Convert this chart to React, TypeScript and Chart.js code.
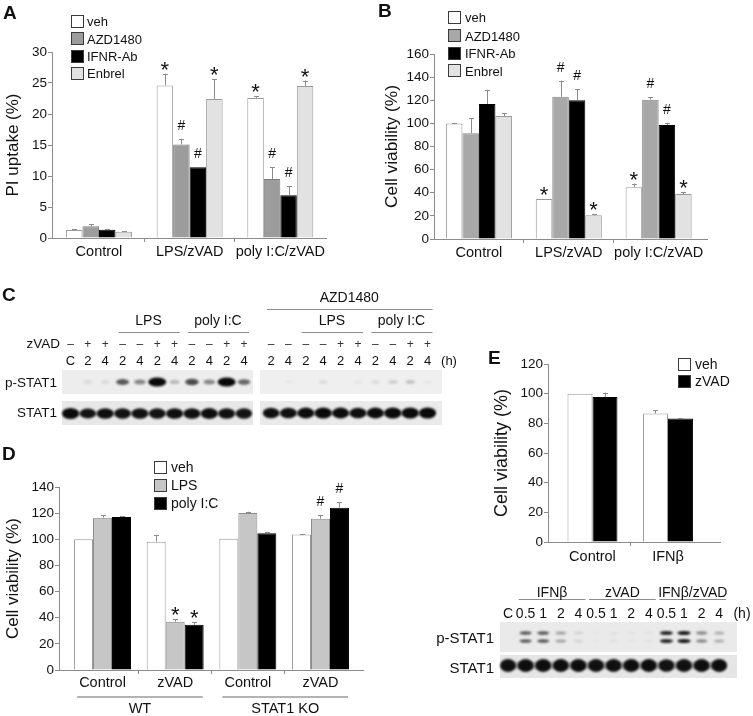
import React, { useEffect, useRef } from 'react';
import { Chart, registerables } from 'chart.js';

Chart.register(...registerables);

const FONT = '"Liberation Sans", Arial, Helvetica, sans-serif';

/* ---------------- Panel A : PI uptake (%) ---------------- */
const aCategories = ['Control', 'LPS/zVAD', 'poly I:C/zVAD'];
const aSeriesNames = ['veh', 'AZD1480', 'IFNR-Ab', 'Enbrel'];
const aVeh = [1.3, 24.6, 22.6];
const aAzd = [1.9, 15.1, 9.5];
const aIfnr = [1.35, 11.4, 6.9];
const aEnbrel = [1.0, 22.4, 24.5];
const aVehErr = [0.15, 1.9, 0.3];
const aAzdErr = [0.3, 0.9, 1.9];
const aIfnrErr = [0.1, 0, 1.5];
const aEnbrelErr = [0.05, 3.2, 0.9];
const aVehMarks = ['', '*', '*'];
const aAzdMarks = ['', '#', '#'];
const aIfnrMarks = ['', '#', '#'];
const aEnbrelMarks = ['', '*', '*'];
const aYMax = 30;
const aYStep = 5;

/* ---------------- Panel B : Cell viability (%) ---------------- */
const bCategories = ['Control', 'LPS/zVAD', 'poly I:C/zVAD'];
const bSeriesNames = ['veh', 'AZD1480', 'IFNR-Ab', 'Enbrel'];
const bVeh = [100, 34.6, 44.7];
const bAzd = [91.4, 123, 120.5];
const bIfnr = [116.7, 120, 98.6];
const bEnbrel = [106.3, 20.5, 38.9];
const bVehErr = [0.5, 0, 3.3];
const bAzdErr = [13, 14, 2];
const bIfnrErr = [12.3, 9.7, 2];
const bEnbrelErr = [2.7, 1.0, 1.7];
const bVehMarks = ['', '*', '*'];
const bAzdMarks = ['', '#', '#'];
const bIfnrMarks = ['', '#', '#'];
const bEnbrelMarks = ['', '*', '*'];
const bYMax = 160;
const bYStep = 20;

/* ---------------- Panel D : Cell viability (%) ---------------- */
const dCategories = ['Control', 'zVAD', 'Control', 'zVAD'];
const dGroupNames = ['WT', 'STAT1 KO'];
const dGroupSpans = [[0, 1], [2, 3]];
const dSeriesNames = ['veh', 'LPS', 'poly I:C'];
const dVeh = [100, 98.2, 100.5, 103.6];
const dLps = [116.5, 36.9, 120.1, 115.8];
const dPoly = [117, 34.6, 104.6, 124.2];
const dVehErr = [0, 4.8, 0, 0.5];
const dLpsErr = [1.8, 2.1, 1.0, 2.5];
const dPolyErr = [0.7, 1.8, 1.0, 4.0];
const dVehMarks = ['', '', '', ''];
const dLpsMarks = ['', '*', '', '#'];
const dPolyMarks = ['', '*', '', '#'];
const dYMax = 140;
const dYStep = 20;

/* ---------------- Panel E : Cell viability (%) ---------------- */
const eCategories = ['Control', 'IFNβ'];
const eSeriesNames = ['veh', 'zVAD'];
const eVeh = [100, 86.6];
const eZvad = [97.8, 83.3];
const eVehErr = [0, 2.2];
const eZvadErr = [2.9, 0.4];
const eVehMarks = ['', ''];
const eZvadMarks = ['', ''];
const eYMax = 120;
const eYStep = 20;

/* ---------------- Western blots ---------------- */
const cLeftTimes = ['C', '2', '4', '2', '4', '2', '4', '2', '4', '2', '4'];
const cLeftZvad = ['–', '+', '+', '–', '–', '+', '+', '–', '–', '+', '+'];
const cLeftPStat = [0, 0.07, 0.07, 0.5, 0.35, 1.0, 0.18, 0.55, 0.35, 1.0, 0.45];
const cLeftStat = [1.0, 0.8, 0.92, 0.85, 0.88, 0.85, 0.92, 0.9, 0.95, 0.88, 0.82];
const cLeftGroups = [{ label: 'LPS', from: 3, to: 6 }, { label: 'poly I:C', from: 7, to: 10 }];
const cRightTimes = ['2', '4', '2', '4', '2', '4', '2', '4', '2', '4'];
const cRightZvad = ['–', '–', '–', '–', '+', '+', '–', '–', '+', '+'];
const cRightPStat = [0, 0.03, 0, 0.07, 0, 0.04, 0.07, 0.12, 0.15, 0.03];
const cRightStat = [0.88, 0.9, 0.95, 1, 0.95, 0.92, 0.98, 1, 1, 1];
const cRightGroups = [{ label: 'LPS', from: 2, to: 5 }, { label: 'poly I:C', from: 6, to: 9 }];
const cRightTop = { label: 'AZD1480', from: 0, to: 9 };
const eTimes = ['C', '0.5', '1', '2', '4', '0.5', '1', '2', '4', '0.5', '1', '2', '4'];
const ePStat = [0, 0.6, 0.6, 0.3, 0.1, 0.02, 0.04, 0.03, 0.04, 0.8, 0.85, 0.4, 0.25];
const eStat = [0.95, 1, 1, 1, 1, 0.95, 0.95, 1, 1, 0.9, 0.95, 1, 1];
const eGroups = [{ label: 'IFNβ', from: 1, to: 4 }, { label: 'zVAD', from: 5, to: 8 }, { label: 'IFNβ/zVAD', from: 9, to: 12 }];

/* lane layout */
const cLx = (i: number) => 70.5 + i * 17.35;
const cRx = (i: number) => 271 + i * 17.4;
const eLx = (i: number) => 508 + i * 17.6;

type Series = { label: string; data: number[]; err: number[]; marks: string[]; fill: string; border: string };
type PanelCfg = {
  left: number; top: number; width: number; height: number;
  padTop: number; padRight: number; yWidth: number; xHeight: number; xPad: number;
  catStart: number; catEnd: number; catPct: number;
  labels: string[]; series: Series[]; yMax: number; yStep: number;
  yTitle: string; yTitleSize: number; yTitlePad: number;
  groups?: { label: string; from: number; to: number }[];
};

const WHITE = { fill: '#ffffff', border: '#9a9a9a' };
const BLACK = { fill: '#000000', border: '#000000' };

const panelA: PanelCfg = {
  left: 0, top: 30, width: 340, height: 245, padTop: 22, padRight: 14, yWidth: 52, xHeight: 37, xPad: 1,
  catStart: -0.518, catEnd: 2.504, catPct: 0.728,
  labels: aCategories, yMax: aYMax, yStep: aYStep, yTitle: 'PI uptake (%)', yTitleSize: 17, yTitlePad: 3,
  series: [
    { label: aSeriesNames[0], data: aVeh, err: aVehErr, marks: aVehMarks, ...WHITE },
    { label: aSeriesNames[1], data: aAzd, err: aAzdErr, marks: aAzdMarks, fill: '#9c9c9c', border: '#7c7c7c' },
    { label: aSeriesNames[2], data: aIfnr, err: aIfnrErr, marks: aIfnrMarks, ...BLACK },
    { label: aSeriesNames[3], data: aEnbrel, err: aEnbrelErr, marks: aEnbrelMarks, fill: '#e2e2e2', border: '#9a9a9a' },
  ],
};

const panelB: PanelCfg = {
  left: 378, top: 30, width: 375, height: 245, padTop: 24, padRight: 46, yWidth: 56, xHeight: 36, xPad: 1,
  catStart: -0.5, catEnd: 2.538, catPct: 0.735,
  labels: bCategories, yMax: bYMax, yStep: bYStep, yTitle: 'Cell viability (%)', yTitleSize: 17.3, yTitlePad: 3.6,
  series: [
    { label: bSeriesNames[0], data: bVeh, err: bVehErr, marks: bVehMarks, ...WHITE },
    { label: bSeriesNames[1], data: bAzd, err: bAzdErr, marks: bAzdMarks, fill: '#a8a8a8', border: '#858585' },
    { label: bSeriesNames[2], data: bIfnr, err: bIfnrErr, marks: bIfnrMarks, ...BLACK },
    { label: bSeriesNames[3], data: bEnbrel, err: bEnbrelErr, marks: bEnbrelMarks, fill: '#e2e2e2', border: '#9a9a9a' },
  ],
};

const panelD: PanelCfg = {
  left: 0, top: 470, width: 380, height: 246, padTop: 17, padRight: 17, yWidth: 59, xHeight: 46, xPad: 0,
  catStart: -0.599, catEnd: 3.585, catPct: 0.784,
  labels: dCategories, yMax: dYMax, yStep: dYStep, yTitle: 'Cell viability (%)', yTitleSize: 17, yTitlePad: 3,
  groups: dGroupNames.map((g, i) => ({ label: g, from: dGroupSpans[i][0], to: dGroupSpans[i][1] })),
  series: [
    { label: dSeriesNames[0], data: dVeh, err: dVehErr, marks: dVehMarks, ...WHITE },
    { label: dSeriesNames[1], data: dLps, err: dLpsErr, marks: dLpsMarks, fill: '#c6c6c6', border: '#8c8c8c' },
    { label: dSeriesNames[2], data: dPoly, err: dPolyErr, marks: dPolyMarks, ...BLACK },
  ],
};

const panelE: PanelCfg = {
  left: 480, top: 340, width: 273, height: 240, padTop: 24, padRight: 33, yWidth: 68, xHeight: 38, xPad: 2,
  catStart: -0.589, catEnd: 1.689, catPct: 0.662,
  labels: eCategories, yMax: eYMax, yStep: eYStep, yTitle: 'Cell viability (%)', yTitleSize: 18, yTitlePad: 11,
  series: [
    { label: eSeriesNames[0], data: eVeh, err: eVehErr, marks: eVehMarks, ...WHITE },
    { label: eSeriesNames[1], data: eZvad, err: eZvadErr, marks: eZvadMarks, ...BLACK },
  ],
};

const AXIS = '#8c8c8c';

function BarPanel({ cfg }: { cfg: PanelCfg }) {
  const ref = useRef<HTMLCanvasElement | null>(null);
  useEffect(() => {
    const canvas = ref.current;
    if (!canvas) return;
    const overlay = {
      id: 'overlay',
      afterDatasetsDraw(chart: any) {
        const ctx = chart.ctx;
        const ys = chart.scales.y;
        const xs = chart.scales.x;
        ctx.save();
        cfg.series.forEach((s, i) => {
          const meta = chart.getDatasetMeta(i);
          meta.data.forEach((el: any, j: number) => {
            const v = s.data[j];
            const e = s.err[j];
            const yBar = ys.getPixelForValue(v);
            const yTop = ys.getPixelForValue(v + e);
            const cx = Math.round(el.x) + 0.5;
            if (e > 0) {
              ctx.strokeStyle = AXIS;
              ctx.lineWidth = 1;
              ctx.beginPath();
              ctx.moveTo(cx, yBar);
              ctx.lineTo(cx, yTop);
              const cy = Math.round(yTop) + 0.5;
              ctx.moveTo(cx - 2.5, cy);
              ctx.lineTo(cx + 2.5, cy);
              ctx.stroke();
            }
            const m = s.marks[j];
            if (m) {
              ctx.fillStyle = '#111';
              ctx.textAlign = 'center';
              ctx.textBaseline = 'alphabetic';
              if (m === '*') {
                ctx.font = `22px ${FONT}`;
                ctx.fillText('*', el.x, yTop + 3);
              } else {
                ctx.font = `14px ${FONT}`;
                ctx.fillText(m, el.x, yTop - 9);
              }
            }
          });
        });
        if (cfg.groups) {
          const cw = xs.getPixelForValue(1) - xs.getPixelForValue(0);
          const base = chart.chartArea.bottom;
          ctx.strokeStyle = '#9a9a9a';
          ctx.lineWidth = 1.5;
          ctx.fillStyle = '#111';
          ctx.font = `14.5px ${FONT}`;
          ctx.textAlign = 'center';
          ctx.textBaseline = 'middle';
          cfg.groups.forEach((g) => {
            const x0 = xs.getPixelForValue(g.from) - 0.35 * cw;
            const x1 = xs.getPixelForValue(g.to) + 0.38 * cw;
            ctx.beginPath();
            ctx.moveTo(x0, base + 27);
            ctx.lineTo(x1, base + 27);
            ctx.stroke();
            ctx.fillText(g.label, (x0 + x1) / 2, base + 38.5);
          });
        }
        ctx.restore();
      },
    };
    const chart = new Chart(canvas, {
      type: 'bar',
      data: {
        labels: cfg.labels,
        datasets: cfg.series.map((s) => ({
          label: s.label,
          data: s.data,
          backgroundColor: s.fill,
          borderColor: s.border,
          borderWidth: 1,
          categoryPercentage: cfg.catPct,
          barPercentage: 1,
        })),
      },
      options: {
        animation: false,
        responsive: false,
        maintainAspectRatio: false,
        devicePixelRatio: 1,
        layout: { padding: { left: 0, top: cfg.padTop, right: cfg.padRight, bottom: 0 } },
        plugins: { legend: { display: false }, tooltip: { enabled: false }, title: { display: false } },
        scales: {
          x: {
            type: 'category',
            offset: true,
            grid: {
              display: true,
              drawOnChartArea: false,
              drawTicks: true,
              tickLength: 4,
              offset: true,
              lineWidth: 1,
              color: (c: any) => (c.type === 'tick' && c.index > 0 ? AXIS : 'rgba(0,0,0,0)'),
            },
            border: { display: true, color: AXIS, width: 1 },
            ticks: { color: '#111', font: { family: FONT, size: 14.5 }, padding: cfg.xPad, maxRotation: 0, autoSkip: false },
            afterBuildTicks: (s: any) => {
              s._startValue = cfg.catStart;
              s._valueRange = cfg.catEnd - cfg.catStart;
            },
            afterFit: (s: any) => {
              s.height = cfg.xHeight;
            },
          },
          y: {
            min: 0,
            max: cfg.yMax,
            ticks: { stepSize: cfg.yStep, color: '#111', font: { family: FONT, size: 13.5 }, padding: 1 },
            grid: { drawOnChartArea: false, tickLength: 4, color: AXIS },
            border: { display: true, color: AXIS, width: 1 },
            title: {
              display: true,
              text: cfg.yTitle,
              color: '#111',
              font: { family: FONT, size: cfg.yTitleSize },
              padding: { top: cfg.yTitlePad, bottom: 0 },
            },
            afterFit: (s: any) => {
              s.width = cfg.yWidth;
            },
          },
        },
      } as any,
      plugins: [overlay],
    });
    return () => chart.destroy();
  }, [cfg]);
  return (
    <canvas
      ref={ref}
      width={cfg.width}
      height={cfg.height}
      style={{ position: 'absolute', left: cfg.left, top: cfg.top, width: cfg.width, height: cfg.height }}
    />
  );
}

type TProps = { x: number; y: number; text: string; size?: number; align?: 'left' | 'center' | 'right'; bold?: boolean; color?: string };
function T({ x, y, text, size = 13, align = 'center', bold = false, color = '#111' }: TProps) {
  const tx = align === 'center' ? '-50%' : align === 'right' ? '-100%' : '0';
  return (
    <span
      style={{
        position: 'absolute', left: x, top: y, transform: `translate(${tx}, -50%)`,
        fontSize: size, lineHeight: 1, whiteSpace: 'nowrap', fontWeight: bold ? 700 : 400, color,
        fontFamily: FONT,
      }}
    >
      {text}
    </span>
  );
}

function Legend({ names, fills, x, ys, textX, size, box }: { names: string[]; fills: string[]; x: number; ys: number[]; textX: number; size: number; box: number }) {
  return (
    <>
      {names.map((n, i) => (
        <React.Fragment key={n + i}>
          <div
            style={{
              position: 'absolute', left: x, top: ys[i] - box / 2, width: box - 2, height: box - 2,
              background: fills[i], border: '1px solid #3a3a3a',
            }}
          />
          <T x={textX} y={ys[i]} text={n} size={size} align="left" />
        </React.Fragment>
      ))}
    </>
  );
}

function drawBand(ctx: CanvasRenderingContext2D, cx: number, cy: number, w: number, h: number, a: number, blur: number) {
  if (a <= 0) return;
  ctx.save();
  ctx.filter = `blur(${blur}px)`;
  ctx.fillStyle = `rgba(10,10,10,${Math.min(1, a)})`;
  ctx.beginPath();
  ctx.ellipse(cx, cy, w / 2, h / 2, 0, 0, Math.PI * 2);
  ctx.fill();
  ctx.restore();
}

function drawBlots(ctx: CanvasRenderingContext2D) {
  ctx.clearRect(0, 0, 753, 716);
  const box = (x0: number, y0: number, x1: number, y1: number, col: string) => {
    ctx.save();
    ctx.filter = 'blur(0.6px)';
    ctx.fillStyle = col;
    ctx.fillRect(x0, y0, x1 - x0, y1 - y0);
    ctx.restore();
  };
  const smear = (x0: number, x1: number, y: number, h: number, a: number) => {
    ctx.save();
    ctx.filter = 'blur(1.2px)';
    ctx.fillStyle = `rgba(20,20,20,${a})`;
    ctx.fillRect(x0, y - h / 2, x1 - x0, h);
    ctx.restore();
  };
  box(62, 370, 253, 394, '#ededed');
  box(62, 401, 253, 425, '#e8e8e8');
  box(260, 370, 442, 394, '#efefef');
  box(260, 401, 442, 425, '#eaeaea');
  box(500, 622, 737, 652, '#eaeaea');
  box(500, 655, 737, 678, '#e6e6e6');

  smear(cLx(0) - 6, cLx(cLeftStat.length - 1) + 6, 413.5, 4, 0.35);
  smear(cRx(0) - 6, cRx(cRightStat.length - 1) + 6, 413.5, 4, 0.35);
  smear(eLx(0) - 6, eLx(eStat.length - 1) + 6, 665.5, 7, 0.3);

  cLeftPStat.forEach((k, i) => drawBand(ctx, cLx(i), 382, 8 + 10 * k, 3 + 6 * k, k * 1.3, 1));
  cLeftStat.forEach((k, i) => drawBand(ctx, cLx(i), 413.5, 12 + 5 * k, 7 + 4 * k, 0.7 + 0.3 * k, 0.8));
  cRightPStat.forEach((k, i) => drawBand(ctx, cRx(i), 382, 8 + 10 * k, 3 + 6 * k, k * 1.3, 1));
  cRightStat.forEach((k, i) => drawBand(ctx, cRx(i), 413, 12 + 5 * k, 7 + 4 * k, 0.7 + 0.3 * k, 0.8));
  ePStat.forEach((k, i) => {
    drawBand(ctx, eLx(i), 633, 9 + 5 * k, 2.5 + 2 * k, k * 1.1, 0.8);
    drawBand(ctx, eLx(i), 641, 9 + 5 * k, 2.5 + 2 * k, k * 1.1, 0.8);
  });
  eStat.forEach((k, i) => drawBand(ctx, eLx(i), 665.5, 13 + 3 * k, 10 + 3 * k, 0.7 + 0.28 * k, 0.9));

  ctx.save();
  ctx.strokeStyle = '#8c8c8c';
  ctx.lineWidth = 1;
  const hline = (x0: number, x1: number, y: number) => {
    ctx.beginPath();
    ctx.moveTo(x0, y + 0.5);
    ctx.lineTo(x1, y + 0.5);
    ctx.stroke();
  };
  cLeftGroups.forEach((g) => hline(cLx(g.from) - 4, cLx(g.to) + 5, 332));
  cRightGroups.forEach((g) => hline(cRx(g.from) - 4, cRx(g.to) + 5, 332));
  hline(cRx(cRightTop.from) - 4, cRx(cRightTop.to) + 5, 309);
  eGroups.forEach((g) => hline(eLx(g.from) - 7, eLx(g.to) + 7, 599));
  ctx.restore();
}

export default function App() {
  const blotRef = useRef<HTMLCanvasElement | null>(null);
  useEffect(() => {
    const c = blotRef.current;
    if (!c) return;
    const ctx = c.getContext('2d');
    if (ctx) drawBlots(ctx);
  }, []);

  return (
    <div
      style={{
        position: 'absolute', left: 0, top: 0, width: 753, height: 716, background: '#ffffff',
        overflow: 'hidden', fontFamily: FONT, color: '#111',
      }}
    >
      <canvas ref={blotRef} width={753} height={716} style={{ position: 'absolute', left: 0, top: 0 }} />
      <BarPanel cfg={panelA} />
      <BarPanel cfg={panelB} />
      <BarPanel cfg={panelD} />
      <BarPanel cfg={panelE} />

      {/* panel letters */}
      <T x={3} y={11.5} text="A" size={19} align="left" bold />
      <T x={378} y={10} text="B" size={19} align="left" bold />
      <T x={2} y={294} text="C" size={19} align="left" bold />
      <T x={2} y={453} text="D" size={19} align="left" bold />
      <T x={488} y={357} text="E" size={19} align="left" bold />

      {/* legends */}
      <Legend names={aSeriesNames} fills={panelA.series.map((s) => s.fill)} x={71} ys={[21, 38.5, 56, 73]} textX={87} size={13} box={13} />
      <Legend names={bSeriesNames} fills={panelB.series.map((s) => s.fill)} x={448} ys={[17, 35.5, 53, 70.5]} textX={465} size={13} box={13} />
      <Legend names={dSeriesNames} fills={panelD.series.map((s) => s.fill)} x={154} ys={[467, 485, 503]} textX={171} size={14} box={13} />
      <Legend names={eSeriesNames} fills={panelE.series.map((s) => s.fill)} x={678} ys={[364, 381]} textX={695} size={14} box={13} />

      {/* panel C blot text */}
      <T x={60} y={344} text="zVAD" size={13.5} align="right" />
      {cLeftZvad.map((s, i) => <T key={'lz' + i} x={cLx(i)} y={344} text={s} size={12} color="#333" />)}
      {cLeftTimes.map((s, i) => <T key={'lt' + i} x={cLx(i)} y={360} text={s} size={13} />)}
      {cRightZvad.map((s, i) => <T key={'rz' + i} x={cRx(i)} y={344} text={s} size={12} color="#333" />)}
      {cRightTimes.map((s, i) => <T key={'rt' + i} x={cRx(i)} y={360} text={s} size={13} />)}
      <T x={449} y={360} text="(h)" size={13} />
      <T x={57} y={383} text="p-STAT1" size={13.5} align="right" />
      <T x={57} y={413} text="STAT1" size={13.5} align="right" />
      {cLeftGroups.map((g, i) => <T key={'lg' + i} x={(cLx(g.from) + cLx(g.to)) / 2} y={320} text={g.label} size={14} />)}
      {cRightGroups.map((g, i) => <T key={'rg' + i} x={(cRx(g.from) + cRx(g.to)) / 2} y={320} text={g.label} size={14} />)}
      <T x={(cRx(cRightTop.from) + cRx(cRightTop.to)) / 2} y={297} text={cRightTop.label} size={14} />

      {/* panel E blot text */}
      {eGroups.map((g, i) => <T key={'eg' + i} x={(eLx(g.from) + eLx(g.to)) / 2} y={592} text={g.label} size={14} />)}
      {eTimes.map((s, i) => <T key={'et' + i} x={eLx(i)} y={613} text={s} size={14} />)}
      <T x={742} y={613} text="(h)" size={14} />
      <T x={494} y={637} text="p-STAT1" size={15} align="right" />
      <T x={494} y={667} text="STAT1" size={15} align="right" />
    </div>
  );
}
